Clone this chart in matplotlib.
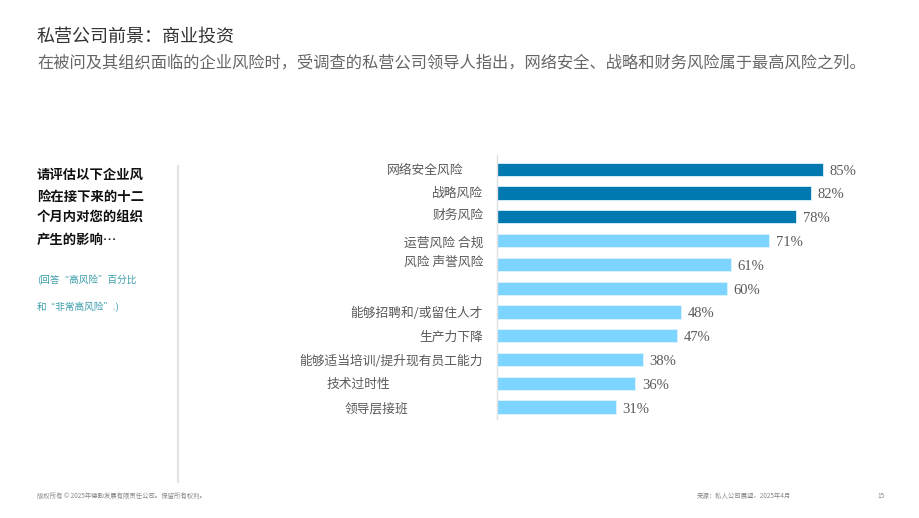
import matplotlib
matplotlib.use("Agg")
import matplotlib.pyplot as plt
import matplotlib.transforms as mtransforms

plt.rcParams['font.family'] = ['Noto Sans CJK SC', 'DejaVu Sans']

# ---- data ----
categories = ["网络安全风险", "战略风险", "财务风险", "运营风险 合规", "风险 声誉风险", "",
              "能够招聘和/或留住人才", "生产力下降", "能够适当培训/提升现有员工能力",
              "技术过时性", "领导层接班"]
values = [85, 82, 78, 71, 61, 60, 48, 47, 38, 36, 31]
highlight = [True, True, True, False, False, False, False, False, False, False, False]

title = "私营公司前景：商业投资"
subtitle = "在被问及其组织面临的企业风险时，受调查的私营公司领导人指出，网络安全、战略和财务风险属于最高风险之列。"
question_lines = ["请评估以下企业风", "险在接下来的十二", "个月内对您的组织", "产生的影响…"]
note_lines = ["(回答“高风险”百分比", "和“非常高风险”.)"]
footer_left = "版权所有 © 2025年德勤发展有限责任公司。保留所有权利。"
footer_right = "来源：私人公司展望，2025年4月"
page_no = "15"

DARK = "#0079B0"
LIGHT = "#7DD5FF"

# pixel shifts of individual tick labels (as laid out in the original); dy>0 = up
label_shift_px = [-20, 0, 0, 0, 0, 0, 0, 0, 0, -93, -75]
label_dy_px = [0, 1, 3, -1, 4, 0, 0, 0, 0, 0, 0]

W, H = 920, 518
fig = plt.figure(figsize=(W / 100, H / 100), dpi=100)

def fx(px):
    return px / W

def fy(py):
    return 1 - py / H

# main axes
ax_left, ax_right, ax_top, ax_bottom = 497, 880, 155, 419
ax = fig.add_axes([fx(ax_left), fy(ax_bottom), fx(ax_right - ax_left), (ax_bottom - ax_top) / H])
ypos = list(range(len(categories)))
colors = [DARK if h else LIGHT for h in highlight]
ax.barh(ypos, values, height=0.56, color=colors, edgecolor="#DDF3FF", linewidth=0.6)
ax.set_xlim(0, 100)
ax.set_ylim(10.5, -0.6)
ax.set_yticks(ypos)
ax.set_yticklabels(categories, fontsize=9.2, color="#5A5A5A", fontweight="light")
ax.tick_params(axis='y', length=0, pad=10)
for lbl, dx, dy in zip(ax.get_yticklabels(), label_shift_px, label_dy_px):
    lbl.set_transform(lbl.get_transform() +
                      mtransforms.ScaledTranslation(dx / 100, dy / 100, fig.dpi_scale_trans))
ax.set_xticks([])
for s in ["top", "right", "bottom"]:
    ax.spines[s].set_visible(False)
ax.spines["left"].set_color("#E0E0E0")
ax.spines["left"].set_linewidth(1.0)
for y, v in zip(ypos, values):
    ax.text(v + 1.8, y + 0.08, f"{v}%", va="center", ha="left", fontsize=10.5,
            color="#5A5A5A", family=["Liberation Serif", "DejaVu Serif"])

# titles
fig.text(fx(37), fy(37), title, fontsize=13, color="#333333", va="center", ha="left")
fig.text(fx(37), fy(63), subtitle, fontsize=11.7, color="#666666", va="center", ha="left",
         fontweight="light")

# left question
for i, line in enumerate(question_lines):
    fig.text(fx(37), fy(175 + i * 21.5), line, fontsize=9.6, fontweight="bold",
             color="#111111", va="center", ha="left")
for i, line in enumerate(note_lines):
    fig.text(fx(37), fy(280 + i * 27), line, fontsize=6.9, color="#3A9DAA",
             va="center", ha="left")

# divider line
fig.add_artist(plt.Line2D([fx(178), fx(178)], [fy(166), fy(482)], color="#E2E2E2", linewidth=1.5))

# footer
fig.text(fx(37), fy(496), footer_left, fontsize=4.6, color="#888888", va="center", ha="left")
fig.text(fx(697), fy(496), footer_right, fontsize=4.6, color="#888888", va="center", ha="left")
fig.text(fx(877), fy(496), page_no, fontsize=4.6, color="#888888", va="center", ha="left")

fig.savefig("out.png", dpi=100)
